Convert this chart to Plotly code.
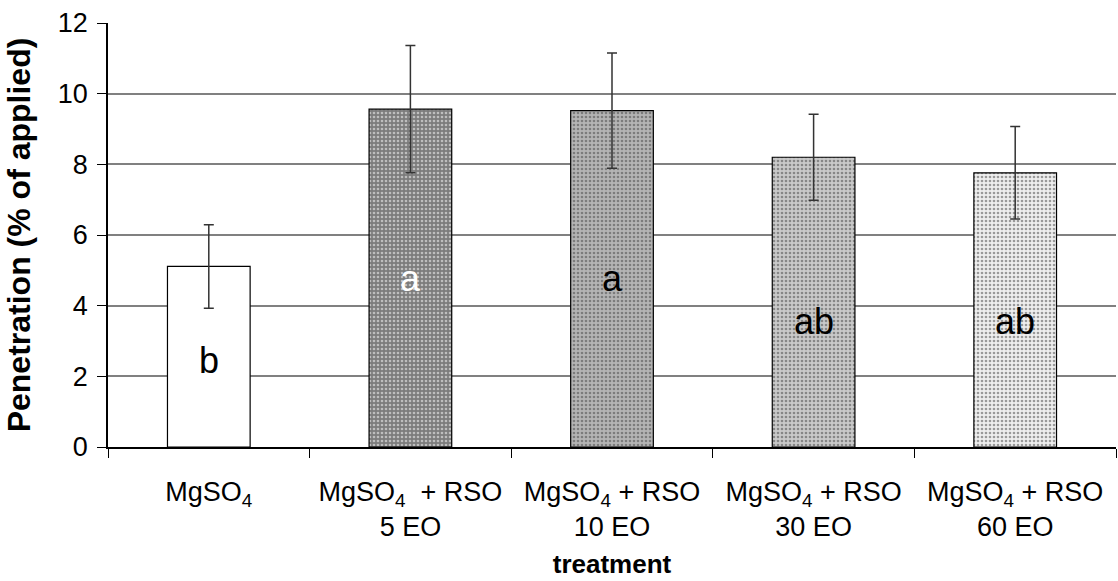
import plotly.graph_objects as go

# Treatments and mean penetration (% of applied) with standard errors
treatments = [
    "MgSO<sub>4</sub>",
    "MgSO<sub>4</sub>  + RSO<br>5 EO",
    "MgSO<sub>4</sub> + RSO<br>10 EO",
    "MgSO<sub>4</sub> + RSO<br>30 EO",
    "MgSO<sub>4</sub> + RSO<br>60 EO",
]
penetration = [5.11, 9.56, 9.52, 8.20, 7.76]
std_error = [1.18, 1.80, 1.63, 1.22, 1.31]
significance = ["b", "a", "a", "ab", "ab"]

# Fill styling per bar (first bar plain white, others stippled grey)
bar_bg = ["#ffffff", "#7c7c7c", "#b4b4b4", "#c9c9c9", "#eeeeee"]
bar_fg = ["#ffffff", "#a6a6a6", "#d0d0d0", "#e2e2e2", "#d6d6d6"]
bar_shape = ["", ".", ".", ".", "."]
letter_colors = ["black", "white", "black", "black", "black"]
letter_y = [2.46, 4.78, 4.78, 3.55, 3.55]

FONT = "Liberation Sans, Arial, Helvetica, sans-serif"

fig = go.Figure()
fig.add_trace(go.Bar(
    x=treatments,
    y=penetration,
    marker=dict(
        color=bar_bg,
        line=dict(color="black", width=1.2),
        pattern=dict(shape=bar_shape, fgcolor=bar_fg, bgcolor=bar_bg,
                     size=4, solidity=0.35, fillmode="overlay"),
    ),
    error_y=dict(type="data", array=std_error, visible=True,
                 color="#333333", thickness=1.5, width=5),
    width=0.41,
    showlegend=False,
))

for t, lab, col, yy in zip(treatments, significance, letter_colors, letter_y):
    fig.add_annotation(x=t, y=yy, text=lab, showarrow=False,
                       font=dict(family=FONT, size=36, color=col))

fig.update_layout(
    width=1118, height=581,
    margin=dict(l=108, r=2, t=23, b=134),
    plot_bgcolor="white", paper_bgcolor="white",
    font=dict(family=FONT, color="black"),
    bargap=0.59,
)
fig.update_xaxes(
    showline=True, linecolor="black", linewidth=1.5,
    ticks="outside", tickson="boundaries", ticklen=9, tickcolor="black",
    tickfont=dict(size=27), tickangle=0, ticklabelstandoff=20,
    title=dict(text="<b>treatment</b>", font=dict(size=26), standoff=14),
    showgrid=False,
)
fig.update_yaxes(
    range=[0, 12], dtick=2,
    showline=True, linecolor="black", linewidth=1.5,
    ticks="outside", ticklen=9, tickcolor="black",
    tickfont=dict(size=27), ticklabelstandoff=4,
    showgrid=True, gridcolor="#808080", gridwidth=1.5,
    zeroline=False,
    title=dict(text="<b>Penetration (% of applied)</b>", font=dict(size=32), standoff=18),
)

fig.write_html("out.html")
